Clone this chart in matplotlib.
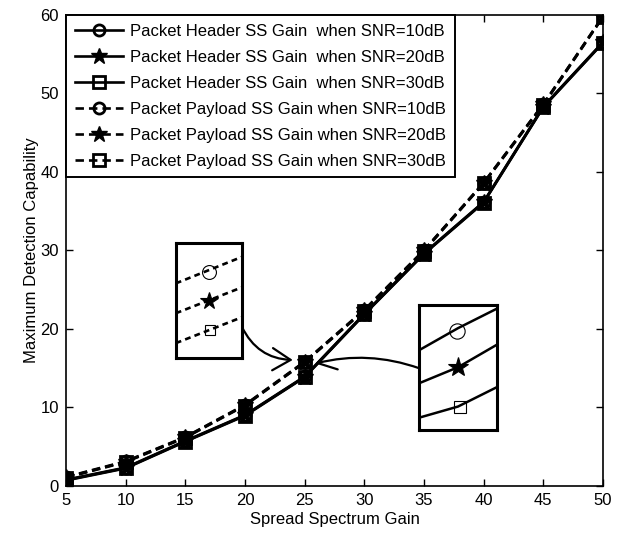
import matplotlib
matplotlib.use('Agg')
import matplotlib.pyplot as plt

plt.rcParams['font.family'] = ['Liberation Sans', 'DejaVu Sans']

# ---- data ----
ss_gain = [5, 10, 15, 20, 25, 30, 35, 40, 45, 50]

header_snr10 = [0.80, 2.35, 5.75, 9.05, 13.95, 21.95, 29.65, 36.20, 48.35, 56.55]
header_snr20 = [0.75, 2.30, 5.70, 9.00, 13.90, 21.90, 29.60, 36.15, 48.30, 56.50]
header_snr30 = [0.70, 2.25, 5.65, 8.95, 13.85, 21.85, 29.55, 36.10, 48.25, 56.45]

payload_snr10 = [1.15, 3.15, 6.25, 10.35, 15.85, 22.45, 30.05, 38.65, 48.65, 59.85]
payload_snr20 = [1.10, 3.10, 6.20, 10.30, 15.80, 22.40, 30.00, 38.60, 48.60, 59.80]
payload_snr30 = [1.05, 3.05, 6.15, 10.25, 15.75, 22.35, 29.95, 38.55, 48.55, 59.75]

header_labels = ['Packet Header SS Gain  when SNR=10dB',
                 'Packet Header SS Gain  when SNR=20dB',
                 'Packet Header SS Gain  when SNR=30dB']
payload_labels = ['Packet Payload SS Gain when SNR=10dB',
                  'Packet Payload SS Gain when SNR=20dB',
                  'Packet Payload SS Gain when SNR=30dB']
markers = ['o', '*', 's']

x_ticks = [5, 10, 15, 20, 25, 30, 35, 40, 45, 50]
y_ticks = [0, 10, 20, 30, 40, 50, 60]

FS = 12

fig = plt.figure(figsize=(6.22, 5.35), dpi=100)
ax = fig.add_axes([0.1061, 0.0916, 0.8634, 0.8804])

def mstyle(m):
    if m == '*':
        return dict(ms=12, mfc='k', mec='k', mew=1.0)
    return dict(ms=8, mfc='none', mec='k', mew=2.0)

for vals, m, lab in zip([header_snr10, header_snr20, header_snr30], markers, header_labels):
    ax.plot(ss_gain, vals, '-', color='k', lw=1.9, marker=m, label=lab, **mstyle(m))
for vals, m, lab in zip([payload_snr10, payload_snr20, payload_snr30], markers, payload_labels):
    ax.plot(ss_gain, vals, '--', color='k', lw=1.9, marker=m, label=lab,
            dashes=(3.2, 1.9), **mstyle(m))

ax.set_xlim(5, 50)
ax.set_ylim(0, 60)
ax.set_xticks(x_ticks)
ax.set_yticks(y_ticks)
ax.tick_params(direction='in', top=True, right=True, length=5, width=1,
               labelsize=FS, colors='k', pad=5)
for s in ax.spines.values():
    s.set_linewidth(1.2)
ax.set_xlabel('Spread Spectrum Gain', fontsize=FS, labelpad=3)
ax.set_ylabel('Maximum Detection Capability', fontsize=FS, labelpad=1)

leg = ax.legend(loc='upper left', borderaxespad=0, fontsize=FS, frameon=True,
                fancybox=False, edgecolor='k', framealpha=1, handlelength=2.93,
                handletextpad=0.42, labelspacing=0.66, borderpad=0.52)
leg.get_frame().set_linewidth(1.4)

# ---- zoom-in sketches (schematic inset boxes) ----
ins_l = ax.inset_axes([14.2, 16.3, 5.53, 14.7], transform=ax.transData)
ins_r = ax.inset_axes([34.6, 7.1, 6.5, 15.9], transform=ax.transData)
for ins in (ins_l, ins_r):
    ins.set_xlim(0, 1)
    ins.set_ylim(0, 1)
    ins.set_xticks([])
    ins.set_yticks([])
    for s in ins.spines.values():
        s.set_linewidth(2.2)

left_lines_y = [[0.647, 0.876], [0.388, 0.612], [0.129, 0.353]]
left_marks = [(0.50, 0.747), (0.50, 0.493), (0.52, 0.244)]
for ys, m, (mx, my) in zip(left_lines_y, markers, left_marks):
    ins_l.plot([0, 1], ys, '--', color='k', lw=1.9, dashes=(2.2, 1.6))
    if m == '*':
        ins_l.plot(mx, my, marker='*', ms=13, mfc='k', mec='k', mew=0.8)
    else:
        ins_l.plot(mx, my, marker=m, ms=10 if m == 'o' else 7.5, mfc='none', mec='k', mew=0.8)

right_lines_x = [0, 0.5, 1]
right_lines_y = [[0.642, 0.818, 0.974], [0.377, 0.505, 0.685], [0.101, 0.190, 0.345]]
right_marks = [(0.483, 0.795), (0.505, 0.506), (0.526, 0.190)]
for ys, m, (mx, my) in zip(right_lines_y, markers, right_marks):
    ins_r.plot(right_lines_x, ys, '-', color='k', lw=1.8)
    if m == '*':
        ins_r.plot(mx, my, marker='*', ms=15, mfc='k', mec='k', mew=0.8)
    else:
        ins_r.plot(mx, my, marker=m, ms=11 if m == 'o' else 8.5, mfc='none', mec='k', mew=0.8)

arrow_kw = dict(arrowstyle='->,head_length=0.65,head_width=0.4', color='k', lw=1.6,
                shrinkA=0, shrinkB=0, mutation_scale=20)
ax.annotate('', xy=(24.0, 16.05), xytext=(19.73, 20.3),
            arrowprops=dict(connectionstyle='arc3,rad=0.3', **arrow_kw))
ax.annotate('', xy=(25.9, 15.6), xytext=(34.6, 15.0),
            arrowprops=dict(connectionstyle='arc3,rad=0.15', **arrow_kw))

fig.savefig('out.png', dpi=100)
